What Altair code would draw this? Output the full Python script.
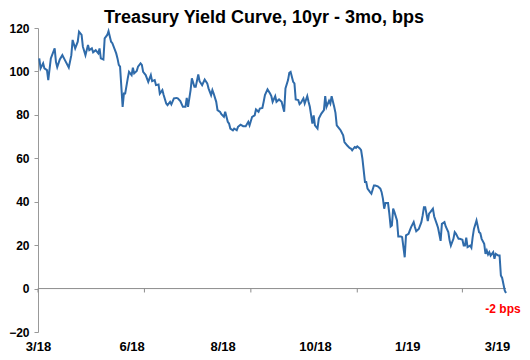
import altair as alt
import pandas as pd

title_text = "Treasury Yield Curve, 10yr - 3mo, bps"
start_date = "2018-03-22"
end_date = "2019-03-22"

# days since start_date for each observation
day_offset = [
    1, 2, 4, 5, 7, 8, 10, 13, 14, 15, 17, 19, 21, 24, 26, 27, 29, 31, 32, 34,
    35, 37, 39, 40, 42, 43, 45, 47, 48, 49, 51, 52, 54, 55, 57, 58, 61, 62, 63, 64,
    66, 67, 68, 70, 71, 73, 74, 75, 77, 78, 80, 81, 82, 84, 86, 88, 89, 91, 92, 94,
    95, 97, 98, 100, 101, 103, 104, 106, 108, 109, 111, 113, 115, 116, 117, 119, 120, 122, 123, 125,
    126, 128,
    130, 132, 133, 135, 136, 137, 139, 140, 142, 143, 145, 146, 148, 149, 150, 152, 153, 155, 156, 158,
    160, 162, 164, 165, 167, 169, 170, 172, 173, 175, 176, 177, 179, 181, 182, 183, 185, 186, 188, 190,
    192, 193, 195, 196, 197, 199, 200, 201, 203, 204, 205, 207, 208, 210, 211, 212, 214, 215, 216, 218,
    219, 221, 223, 224, 225, 227, 228, 229, 231, 232, 233, 235, 236, 238, 239, 241, 243, 244, 245, 247,
    248, 249, 251, 252, 253,
    255, 256, 257, 259, 260, 262, 263, 265, 267, 268, 269, 270, 271, 273, 274, 275, 276, 277, 278, 280,
    281, 283, 284, 286, 287, 289, 290, 291, 293, 294, 295, 297, 299, 300, 301, 302, 304, 305, 306, 308,
    309, 311, 312, 314, 315,
    317, 318, 320, 321, 322, 324, 325, 326, 328, 329, 331, 332, 333, 334, 335, 337, 338, 339, 340, 342,
    344, 345, 346, 348, 349, 350, 351, 352, 353, 355, 356, 357, 359, 360, 361, 362, 364, 365,
]

spread_bps = [
    106, 101.4, 103.7, 101.4, 100.6, 96, 106, 110.6, 104.4, 102, 105.5, 107.5, 105.2, 101.8, 107.5, 114.5, 110.6, 113.7, 118.3, 116.8,
    111.4, 107.5, 112.2, 109.8, 110.6, 108.8, 109.8, 108.3, 110.6, 106, 105.5, 115.2, 116.8, 118.6, 113.7, 113, 108.3, 106, 103, 102.2,
    83.7, 89.8, 89.8, 96.8, 99.8, 98.3, 101.7, 99.1, 100.2, 102.2, 103.7, 103, 99.8, 98.3, 95.2, 98.3, 95.5, 96, 93.7, 94,
    89.8, 91.4, 89.1, 85.2, 84.5, 86, 84.8, 87.6, 87.8, 87.6, 86.3, 83.7, 83.7, 87.8, 83.7, 91.4, 96.8, 92.9, 92.9, 98.6,
    95.5, 93.7,
    96.3, 94.5, 92.2, 89.1, 91.4, 89.8, 86, 82.2, 81.4, 80.3, 79.1, 81.4, 76.8, 76, 73.7, 72.9, 73.7, 72.9, 74.5, 75.5,
    74.8, 74.8, 76.8, 75.2, 79.1, 79.8, 82.5, 81.4, 82.9, 83.2, 86, 89.1, 91.7, 89.8, 88.6, 86, 88.6, 86, 87.1, 86,
    81.4, 92.2, 96, 99.4, 99.8, 95.2, 94.5, 87.1, 86.8, 84.9, 85.5, 87.6, 85.2, 88.6, 86, 83.7, 76, 79.8, 75.2, 73.7,
    78.3, 80.6, 82.2, 88.6, 83.7, 86.5, 85.2, 88.6, 83.7, 80.9, 75.2, 73.7, 72.9, 70.6, 67.5, 66, 64.8, 64.5, 63.7, 65.2,
    64.8, 65.5, 64.5, 63.7, 59.9,
    49.1, 49.1, 46, 44.4, 43.7, 47.5, 47.5, 47.1, 46, 44.4, 41.4, 36.8, 39.4, 39.4, 34.5, 28.6, 29.1, 36.8, 35.2, 31.4,
    24, 24, 23.7, 14.4, 24.5, 25.2, 26.8, 28.3, 30.6, 28.3, 26.4, 27.5, 30.6, 33.7, 37.5, 37.5, 31.1, 34.5, 35.2, 36.8,
    33.2, 29.8, 28, 22, 29.8,
    30.6, 28.6, 26, 22.2, 19.8, 22.9, 26, 25.2, 22.9, 22.9, 22.5, 19.8, 19.8, 23.4, 19.1, 19.8, 18.8, 23.7, 27.5, 31.4,
    26, 25.5, 22.9, 20.6, 16, 17.5, 15.7, 16.8, 15.2, 16.8, 13.7, 16, 15.2, 15.2, 6, 4.9, -0.9, -2,
]

x_label_dates = ["2018-03-22", "2018-06-03", "2018-08-13", "2018-10-24", "2019-01-04", "2019-03-15"]
zero_tick_days = [0, 83, 166, 249, 331]
y_ticks = [-20, 0, 20, 40, 60, 80, 100, 120]
end_label = ["-2 bps"]

start = pd.Timestamp(start_date)
df = pd.DataFrame({"date": start + pd.to_timedelta(day_offset, unit="D"), "spread": spread_bps})
ticks_df = pd.DataFrame({"date": start + pd.to_timedelta(zero_tick_days, unit="D")})
zero_df = pd.DataFrame({"spread": [0]})
label_df = pd.DataFrame({"date": [df["date"].iloc[-1]], "spread": [spread_bps[-1]], "label": end_label})
title_df = pd.DataFrame({"label": [title_text]})


def dt(s):
    t = pd.Timestamp(s)
    return alt.DateTime(year=t.year, month=t.month, date=t.day)


x_scale = alt.Scale(domain=[dt(start_date), dt(end_date)], nice=False)
y_scale = alt.Scale(domain=[-20, 120], nice=False, zero=False)

x_enc = alt.X(
    "date:T",
    scale=x_scale,
    title=None,
    axis=alt.Axis(
        values=[dt(s) for s in x_label_dates],
        format="%-m/%y",
        ticks=False,
        domain=False,
        grid=False,
        labelPadding=8,
        labelFontSize=13,
        labelFontWeight="bold",
        labelAngle=0,
        labelOverlap=False,
        labelFlush=False,
    ),
)
y_enc = alt.Y(
    "spread:Q",
    scale=y_scale,
    title=None,
    axis=alt.Axis(
        values=y_ticks,
        grid=False,
        domainColor="#999999",
        tickColor="#999999",
        tickSize=4,
        labelPadding=5,
        labelFontSize=12,
        labelFontWeight="bold",
    ),
)

zero_line = alt.Chart(zero_df).mark_rule(color="#8c8c8c", strokeWidth=1).encode(
    y=alt.Y("spread:Q", scale=y_scale)
)

zero_ticks = alt.Chart(ticks_df).mark_rule(color="#8c8c8c", strokeWidth=1).encode(
    x=alt.X("date:T", scale=x_scale),
    y=alt.datum(0),
    y2=alt.datum(-1.8),
)

line = alt.Chart(df).mark_line(color="#2F6BAA", strokeWidth=2).encode(x=x_enc, y=y_enc)

end_text = alt.Chart(label_df).mark_text(
    color="#FF0000", fontWeight="bold", fontSize=12, font="Liberation Sans",
    baseline="middle", align="center", dx=-3, dy=16,
).encode(
    x=alt.X("date:T", scale=x_scale),
    y=alt.Y("spread:Q", scale=y_scale),
    text="label:N",
)

title_mark = alt.Chart(title_df).mark_text(
    font="Liberation Sans", fontSize=18, fontWeight="bold", color="black",
    align="center", baseline="alphabetic",
).encode(
    x=alt.value(226),
    y=alt.value(-5),
    text="label:N",
)

chart = (
    alt.layer(zero_line, zero_ticks, line, end_text, title_mark)
    .properties(
        width=468,
        height=304,
        padding={"left": 30, "top": 20, "right": 16, "bottom": 20},
        autosize=alt.AutoSizeParams(type="none"),
    )
    .configure_view(strokeWidth=0)
    .configure_axis(labelFont="Liberation Sans", labelColor="black")
)

chart.save("out.html", embed_options={"renderer": "svg", "actions": False})
